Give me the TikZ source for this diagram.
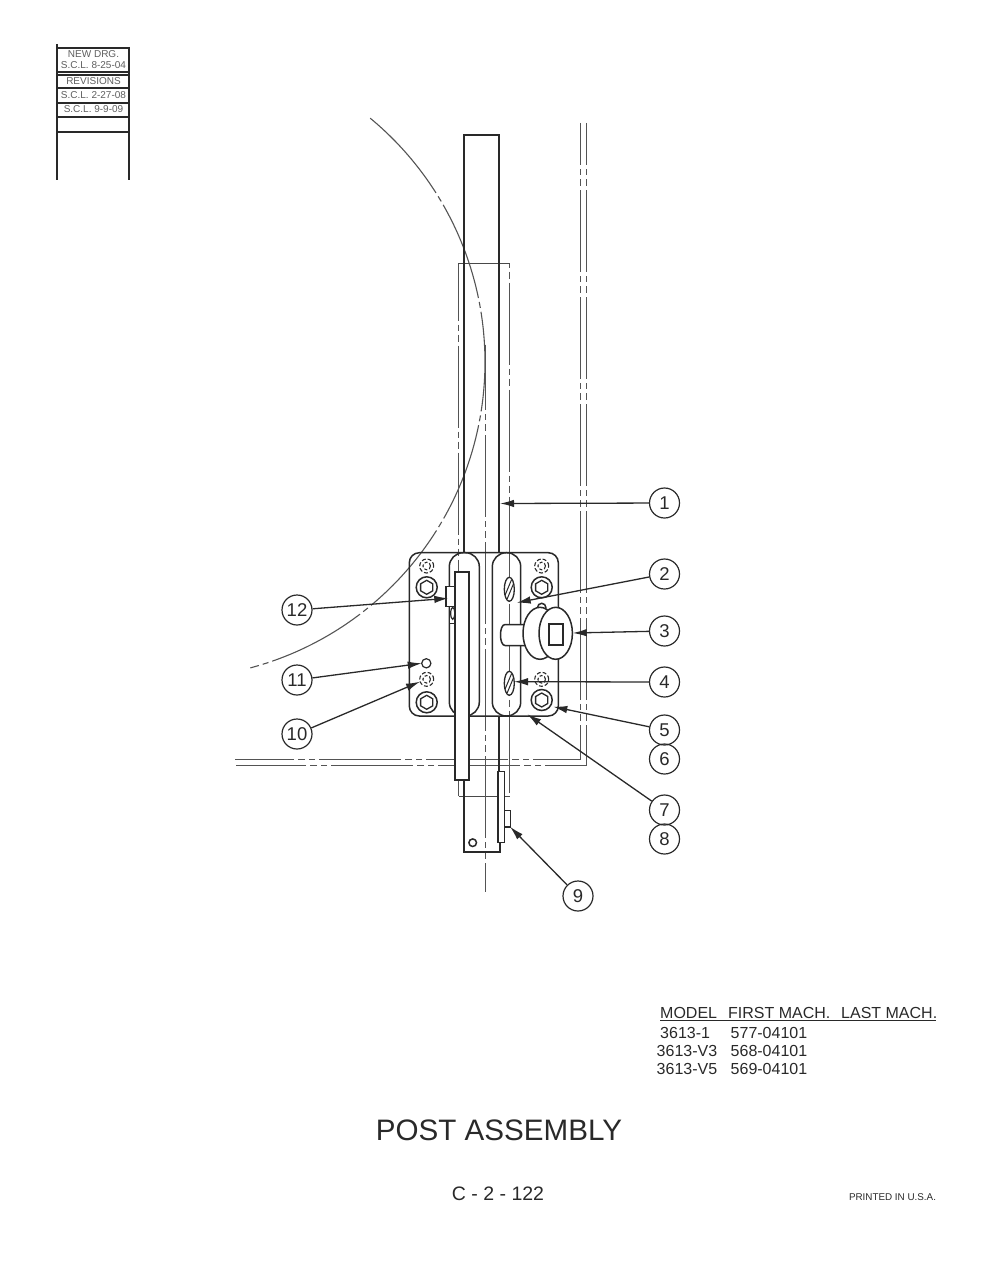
\documentclass[tikz,border=0pt]{standalone}
\usepackage{fontspec}
\setmainfont{Liberation Sans}
\usetikzlibrary{arrows.meta,shapes.geometric}
\definecolor{ink}{gray}{0.16}
\tikzset{
    part/.style={draw=ink, line width=1.5pt},
    post/.style={draw=ink, line width=2pt},
    thin part/.style={draw=ink!85, line width=1.3pt},
    center dash/.style={draw=ink!80, line width=1.4pt, dash pattern=on 82pt off 4pt on 6pt off 4pt on 7pt off 4pt},
    callout/.style={circle, draw=ink, line width=1.2pt, minimum size=30pt, inner sep=0pt, text=ink, font=\fontsize{18.5}{18.5}\selectfont},
    leader/.style={draw=ink, line width=1.3pt, -{Latex[length=14pt,width=7.5pt]}},
    rev text/.style={text=ink!75, inner sep=0pt, font=\fontsize{10}{10}\selectfont},
    table text/.style={text=ink, anchor=west, inner sep=0pt, font=\fontsize{16}{16}\selectfont},
    hexhead/.style={regular polygon, regular polygon sides=6, shape border rotate=30, draw=ink, line width=1.3pt, minimum size=14pt, inner sep=0pt}
}
\begin{document}
\begin{tikzpicture}[x=1pt, y=-1pt]
    \useasboundingbox (0, 0) rectangle (995, 1287);

    \draw [post] (57, 44) -- (57, 180);
    \draw [post] (129, 47) -- (129, 180);
    \foreach \y in {48, 72, 75, 88, 103, 117, 132}
        \draw [post, line width=1.6pt] (57, \y) -- (129, \y);
    \node [rev text] (drg) at (93.5, 54.5) {NEW DRG.};
    \node [rev text] (rev0) at (93.5, 65.5) {S.C.L. 8-25-04};
    \node [rev text] (revs) at (93.5, 81.5) {REVISIONS};
    \node [rev text] (rev1) at (93.5, 95.5) {S.C.L. 2-27-08};
    \node [rev text] (rev2) at (93.5, 109.5) {S.C.L. 9-9-09};

    \draw [center dash, dash phase=40pt] (580.5, 123) -- (580.5, 759.5) -- (235, 759.5);
    \draw [center dash, dash phase=40pt] (586.5, 123) -- (586.5, 765.5) -- (235.7, 765.5);
    \draw [thin part] (458.5, 320) -- (458.5, 263.5) -- (509.5, 263.5);
    \draw [center dash, dash phase=25pt] (458.5, 263.5) -- (458.5, 796);
    \draw [center dash, dash phase=88pt] (509.5, 263.5) -- (509.5, 796);
    \draw [thin part] (458.5, 796.5) -- (509.5, 796.5);
    \draw [center dash, dash phase=17pt] (485.5, 345) -- (485.5, 892);

    \draw [domain=-50.4:75, smooth, samples=80, variable=\t, draw=ink!80, line width=1.1pt, dash pattern=on 100pt off 4pt on 6pt off 4pt]
        plot ({168.4 + 316.6*cos(\t)}, {362.1 + 316.6*sin(\t)});

    \draw [post] (464, 553) -- (464, 135) -- (499, 135) -- (499, 553);
    \draw [post] (499, 716) -- (499, 772);
    \draw [post] (464, 779) -- (464, 852) -- (500, 852) -- (500, 842);
    \draw [part] (472.7, 842.7) circle (3.8pt);
    \draw [part, fill=white] (498, 771.7) rectangle (504.3, 842.3);
    \draw [part, fill=white] (504.3, 810.3) rectangle (510.3, 827);

    \draw [part, rounded corners=10pt] (409.3, 552.7) rectangle (558.3, 716);
    \draw [part, rounded corners=14pt] (449.3, 552.7) rectangle (479.3, 716);
    \draw [part, rounded corners=14pt] (492.3, 552.7) rectangle (520.7, 716);

    \foreach \x/\y in {426.7/587.3, 541.7/587.3, 426.7/702.3, 541.7/700} {
        \draw [part] (\x, \y) circle (10.5pt);
        \node [hexhead] at (\x, \y) {};
    }
    \foreach \x/\y in {426.7/566, 541.7/566, 426.7/679.3, 541.7/679.3} {
        \draw [part, line width=1.1pt, dash pattern=on 4pt off 2pt] (\x, \y) circle (7pt);
        \draw [part, line width=1.1pt, dash pattern=on 3pt off 2pt] (\x, \y) circle (3.8pt);
    }
    \foreach \y in {589.3, 683.3} {
        \draw [part, line width=1.3pt, fill=white] (509.3, \y) ellipse [x radius=5pt, y radius=12pt];
        \draw [part, line width=1pt] (505.2, \y + 5.5) -- (511.5, \y - 9.5);
        \draw [part, line width=1pt] (507.2, \y + 9.5) -- (513.5, \y - 5.5);
    }

    \draw [part, fill=white] (449.3, 606.7) -- (449.3, 623.3) -- (456, 623.3) -- (456, 606.7);
    \draw [part, line width=1.2pt] (452.7, 613.3) ellipse [x radius=2pt, y radius=6pt];
    \draw [post, fill=white] (455, 779.5) rectangle (469, 572.3);
    \draw [part, fill=white] (446, 586.7) rectangle (454.6, 606.7);
    \draw [part, line width=1.2pt] (426.3, 663.3) circle (4.6pt);

    \draw [part, fill=white] (541.7, 607.5) circle (4.2pt);
    \draw [part, fill=white] (525, 624.5) -- (505, 624.5) .. controls (499, 624.5) and (499, 645.5) .. (505, 645.5) -- (525, 645.5);
    \draw [part, fill=white] (540, 633.3) ellipse [x radius=17pt, y radius=26pt];
    \draw [part, fill=white] (555.7, 633.3) ellipse [x radius=16.7pt, y radius=26pt];
    \draw [post] (549, 624) rectangle (562.7, 645.3);

    \foreach \n/\x/\y in {1/664.5/503, 2/664.5/574, 3/664.5/631, 4/664.5/682, 5/664.5/730, 6/664.5/759,
                          7/664.5/810, 8/664.5/839, 9/578/896, 10/297/734, 11/297/680, 12/297/610}
        \node [callout] (c\n) at (\x, \y) {\n};

    \coordinate (t1) at (500, 503.5);
    \coordinate (t2) at (516.7, 602.7);
    \coordinate (t3) at (572.7, 633);
    \coordinate (t4) at (514, 681.7);
    \coordinate (t5) at (553.3, 706.7);
    \coordinate (t7) at (527.3, 714.3);
    \coordinate (t9) at (510, 826.7);
    \coordinate (t10) at (420, 681.7);
    \coordinate (t11) at (421.7, 663.3);
    \coordinate (t12) at (448.3, 598.3);
    \foreach \n in {1, 2, 3, 4, 5, 7, 9, 10, 11, 12}
        \draw [leader] (c\n) -- (t\n);

    \node [table text] (hmodel) at (660, 1013) {MODEL};
    \node [table text] (hfirst) at (728, 1013) {FIRST MACH.};
    \node [table text] (hlast) at (841, 1013) {LAST MACH.};
    \draw [part] (660, 1020.5) -- (936, 1020.5);
    \node [table text] (m1) at (660, 1033) {3613-1};
    \node [table text] (m2) at (656.5, 1051) {3613-V3};
    \node [table text] (m3) at (656.5, 1069) {3613-V5};
    \node [table text] (f1) at (730.5, 1033) {577-04101};
    \node [table text] (f2) at (730.5, 1051) {568-04101};
    \node [table text] (f3) at (730.5, 1069) {569-04101};

    \node [text=ink, inner sep=0pt, font=\fontsize{29.6}{30}\selectfont] (title) at (499, 1130) {POST ASSEMBLY};
    \node [text=ink, inner sep=0pt, font=\fontsize{19.5}{20}\selectfont] (sheet) at (498, 1194) {C - 2 - 122};
    \node [text=ink, inner sep=0pt, font=\fontsize{9.85}{10}\selectfont] (printed) at (892.5, 1197) {PRINTED IN U.S.A.};
\end{tikzpicture}
\end{document}
